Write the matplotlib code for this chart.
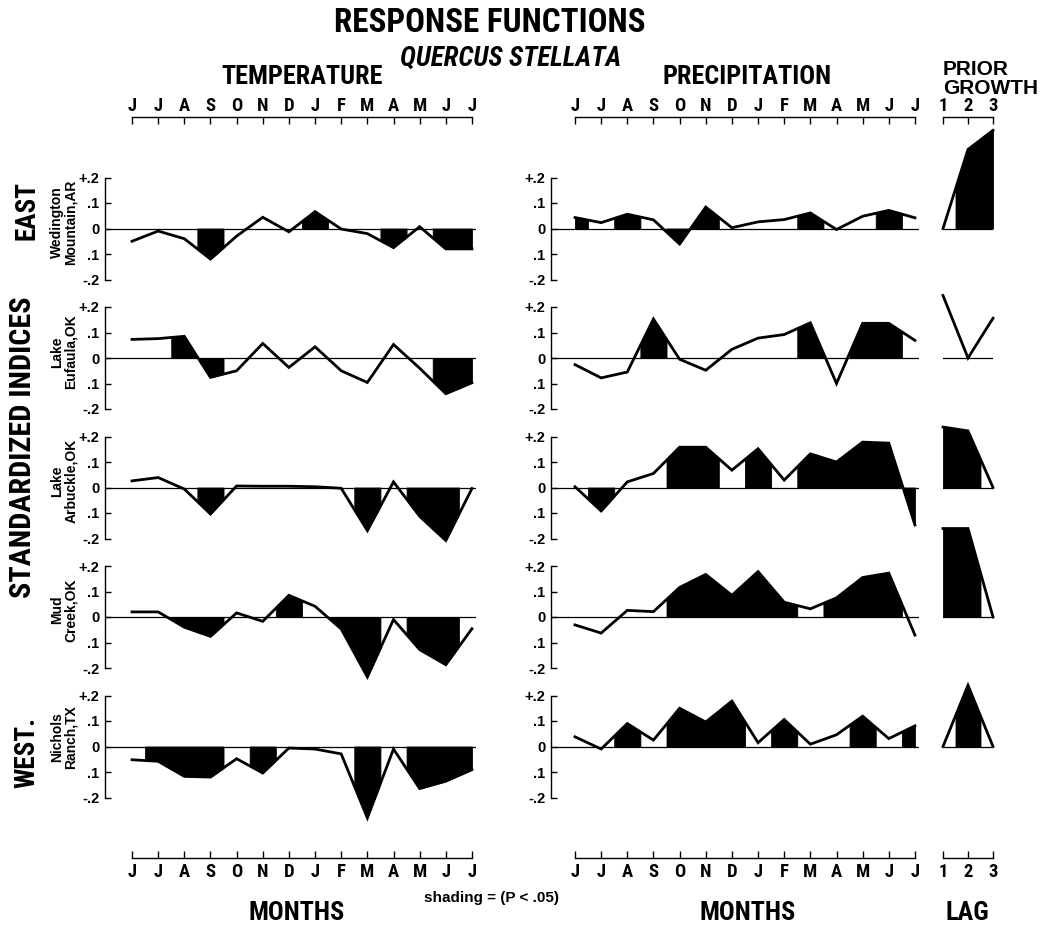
import numpy as np
import matplotlib
matplotlib.use('Agg')
import matplotlib.pyplot as plt
from matplotlib import font_manager as fm

plt.rcParams['font.family'] = ['Liberation Sans', 'DejaVu Sans']


def pick_narrow(cands):
    for c in cands:
        try:
            path = fm.findfont(fm.FontProperties(family=c, weight='bold'), fallback_to_default=False)
            if path:
                return c
        except Exception:
            pass
    return None


NARROW = pick_narrow(['Liberation Sans Narrow', 'Roboto Condensed', 'Arial Narrow'])
if NARROW:
    NFAM = [NARROW, 'Liberation Sans', 'DejaVu Sans']
    NF = 1.0 / 0.82
else:
    NFAM = ['Liberation Sans', 'DejaVu Sans']
    NF = 1.0

# ---------------- data ----------------
months = ['J', 'J', 'A', 'S', 'O', 'N', 'D', 'J', 'F', 'M', 'A', 'M', 'J', 'J']
lags = [1, 2, 3]
stations = ['Wedington\nMountain,AR', 'Lake\nEufaula,OK', 'Lake\nArbuckle,OK',
            'Mud\nCreek,OK', 'Nichols\nRanch,TX']

temp_wedington = [-0.05, -0.01, -0.04, -0.12, -0.03, 0.044, -0.013, 0.066, -0.002, -0.02, -0.075, 0.007, -0.08, -0.08]
temp_eufaula = [0.073, 0.076, 0.085, -0.076, -0.05, 0.057, -0.037, 0.044, -0.05, -0.096, 0.053, -0.04, -0.14, -0.097]
temp_arbuckle = [0.026, 0.039, -0.006, -0.104, 0.006, 0.005, 0.005, 0.003, -0.003, -0.169, 0.022, -0.113, -0.208, -0.004]
temp_mud = [0.02, 0.02, -0.04, -0.076, 0.016, -0.017, 0.085, 0.042, -0.047, -0.235, -0.01, -0.128, -0.187, -0.046]
temp_nichols = [-0.052, -0.058, -0.117, -0.12, -0.048, -0.104, -0.006, -0.01, -0.029, -0.28, -0.01, -0.165, -0.136, -0.091]

precip_wedington = [0.043, 0.023, 0.056, 0.034, -0.061, 0.084, 0.003, 0.026, 0.035, 0.061, -0.004, 0.048, 0.071, 0.042]
precip_eufaula = [-0.026, -0.078, -0.055, 0.153, -0.005, -0.048, 0.034, 0.078, 0.092, 0.138, -0.1, 0.136, 0.136, 0.069]
precip_arbuckle = [0.003, -0.092, 0.022, 0.055, 0.158, 0.158, 0.068, 0.152, 0.029, 0.132, 0.1, 0.178, 0.174, -0.147]
precip_mud = [-0.031, -0.063, 0.026, 0.021, 0.116, 0.167, 0.085, 0.178, 0.058, 0.032, 0.075, 0.155, 0.172, -0.071]
precip_nichols = [0.038, -0.01, 0.09, 0.025, 0.15, 0.096, 0.178, 0.015, 0.106, 0.009, 0.046, 0.119, 0.031, 0.081]

prior_wedington = [0.0, 0.31, 0.385]
prior_eufaula = [0.245, 0.0, 0.156]
prior_arbuckle = [0.237, 0.222, 0.0]
prior_mud = [0.347, 0.347, 0.0]
prior_nichols = [0.0, 0.24, 0.0]

# significant (P < .05) months (index into months) / lags
temp_sig = [[3, 7, 10, 12, 13], [2, 3, 12, 13], [3, 9, 11, 12], [2, 3, 6, 8, 9, 11, 12],
            [1, 2, 3, 5, 9, 11, 12, 13]]
precip_sig = [[0, 2, 4, 5, 9, 12], [3, 9, 11, 12], [1, 4, 5, 7, 9, 10, 11, 12, 13],
              [4, 5, 6, 7, 8, 10, 11, 12], [2, 4, 5, 6, 8, 11, 13]]
prior_sig = [[2, 3], [], [1, 2], [1, 2], [2]]

temps = [temp_wedington, temp_eufaula, temp_arbuckle, temp_mud, temp_nichols]
precips = [precip_wedington, precip_eufaula, precip_arbuckle, precip_mud, precip_nichols]
priors = [prior_wedington, prior_eufaula, prior_arbuckle, prior_mud, prior_nichols]

ytick_vals = [-0.2, -0.1, 0, 0.1, 0.2]
ytick_labels = ['-.2', '.1', '0', '.1', '+.2']

# ---------------- layout ----------------
W, H = 1048, 927
fig = plt.figure(figsize=(W / 100, H / 100), dpi=100)


def add_ax(x0, x1, ytop, ybot):
    return fig.add_axes([x0 / W, 1 - ybot / H, (x1 - x0) / W, (ybot - ytop) / H])


STEP = 26.15
row_zero = [228.5 + 129.5 * r for r in range(5)]
HALF = 51.0  # px for 0.2

panels = {
    'temp': dict(spine=105, first=132, right=476),
    'precip': dict(spine=551, first=575, right=919),
}
prior_px = (943, 993)

LW = 2.0
BOLD = dict(fontweight='bold', color='black')


def shade(ax, x, v, sig_idx):
    x = np.asarray(x, float)
    v = np.asarray(v, float)
    groups = []
    for s in sorted(sig_idx):
        if groups and s == groups[-1][-1] + 1:
            groups[-1].append(s)
        else:
            groups.append([s])
    for g in groups:
        a = max(x[0], x[g[0]] - 0.5)
        b = min(x[-1], x[g[-1]] + 0.5)
        xs = np.union1d(np.linspace(a, b, 80), x[(x > a) & (x < b)])
        ys = np.interp(xs, x, v)
        ax.fill_between(xs, 0, ys, facecolor='black', edgecolor='black', lw=0.6, clip_on=False)


def style_panel(ax):
    for s in ['top', 'right', 'bottom']:
        ax.spines[s].set_visible(False)
    ax.spines['left'].set_bounds(-0.2, 0.2)
    ax.spines['left'].set_linewidth(1.0)
    ax.set_xticks([])
    ax.set_yticks(ytick_vals)
    ax.set_yticklabels(ytick_labels, fontsize=10.5, fontweight='bold')
    ax.tick_params(axis='y', direction='in', length=4.5, width=1.0, pad=4)
    ax.set_ylim(-0.2, 0.2)
    ax.patch.set_visible(False)


for r in range(5):
    y0 = row_zero[r]
    for key, data, sig in [('temp', temps[r], temp_sig[r]), ('precip', precips[r], precip_sig[r])]:
        p = panels[key]
        ax = add_ax(p['spine'], p['right'], y0 - HALF, y0 + HALF)
        ax.set_xlim((p['spine'] - p['first']) / STEP, (p['right'] - p['first']) / STEP)
        style_panel(ax)
        x = np.arange(len(months))
        ax.axhline(0, color='black', lw=0.9)
        shade(ax, x, data, sig)
        ax.plot(x, data, color='black', lw=LW, clip_on=False, solid_joinstyle='miter')
    # prior growth
    ax = add_ax(prior_px[0], prior_px[1], y0 - HALF, y0 + HALF)
    ax.set_xlim(1, 3)
    ax.set_ylim(-0.2, 0.2)
    ax.axis('off')
    ax.axhline(0, color='black', lw=0.9)
    shade(ax, lags, priors[r], [l - 1 for l in prior_sig[r]])
    ax.plot(lags, priors[r], color='black', lw=LW, clip_on=False, solid_joinstyle='miter')


# ---------------- rulers ----------------
def ruler(x0, x1, xlim, ticks, labels, top):
    if top:
        ax = add_ax(x0, x1, 117, 127)
        side = 'top'
    else:
        ax = add_ax(x0, x1, 848, 858)
        side = 'bottom'
    ax.set_xlim(*xlim)
    ax.set_ylim(0, 1)
    for s in ['top', 'bottom', 'left', 'right']:
        ax.spines[s].set_visible(s == side)
    ax.spines[side].set_bounds(ticks[0], ticks[-1])
    ax.spines[side].set_linewidth(1.0)
    ax.set_yticks([])
    ax.set_xticks(ticks)
    ax.set_xticklabels(labels, fontsize=11 * NF, fontweight='bold', family=NFAM)
    if top:
        ax.xaxis.tick_top()
    else:
        ax.xaxis.tick_bottom()
    ax.tick_params(axis='x', direction='in', length=5, width=1.0, pad=1.5 if top else 3.5)
    ax.patch.set_visible(False)


for top in (True, False):
    for key in ('temp', 'precip'):
        p = panels[key]
        x0, x1 = p['first'] - 6, p['first'] + 13 * STEP + 6
        ruler(x0, x1, (-6 / STEP, 13 + 6 / STEP), list(range(len(months))), months, top)
    ruler(prior_px[0] - 5, prior_px[1] + 5, (1 - 5 / 25, 3 + 5 / 25), lags, [str(l) for l in lags], top)


# ---------------- text ----------------
def ftext(x, y, s, **kw):
    return fig.text(x / W, 1 - y / H, s, **kw)


ftext(490, 23, 'RESPONSE FUNCTIONS', fontsize=19.5 * NF, ha='center', va='center', family=NFAM, **BOLD)
ftext(511, 58, 'QUERCUS STELLATA', fontsize=16 * NF, ha='center', va='center', style='italic', family=NFAM, **BOLD)
ftext(302, 77, 'TEMPERATURE', fontsize=15.5 * NF, ha='center', va='center', family=NFAM, **BOLD)
ftext(747, 77, 'PRECIPITATION', fontsize=15.5 * NF, ha='center', va='center', family=NFAM, **BOLD)
ftext(943, 79, 'PRIOR\nGROWTH', fontsize=15, ha='left', va='center', linespacing=1.0,
      multialignment='left', **BOLD)

ftext(297, 913, 'MONTHS', fontsize=15.5 * NF, ha='center', va='center', family=NFAM, **BOLD)
ftext(748, 913, 'MONTHS', fontsize=15.5 * NF, ha='center', va='center', family=NFAM, **BOLD)
ftext(967, 913, 'LAG', fontsize=15.5 * NF, ha='center', va='center', family=NFAM, **BOLD)
ftext(492, 898, 'shading = (P < .05)', fontsize=11, ha='center', va='center', **BOLD)

ftext(27, 211, 'EAST', fontsize=16 * NF, rotation=90, ha='center', va='center', family=NFAM, **BOLD)
ftext(23, 447, 'STANDARDIZED INDICES', fontsize=17.8 * NF, rotation=90, ha='center', va='center',
      family=NFAM, **BOLD)
ftext(27, 752, 'WEST.', fontsize=16 * NF, rotation=90, ha='center', va='center', family=NFAM, **BOLD)

station_y = [222, 352, 481, 610, 737]
for s, yy in zip(stations, station_y):
    ftext(64, yy, s, fontsize=10, rotation=90, ha='center', va='center',
          multialignment='center', linespacing=1.0, **BOLD)

fig.savefig('out.png', dpi=100, facecolor='white')
